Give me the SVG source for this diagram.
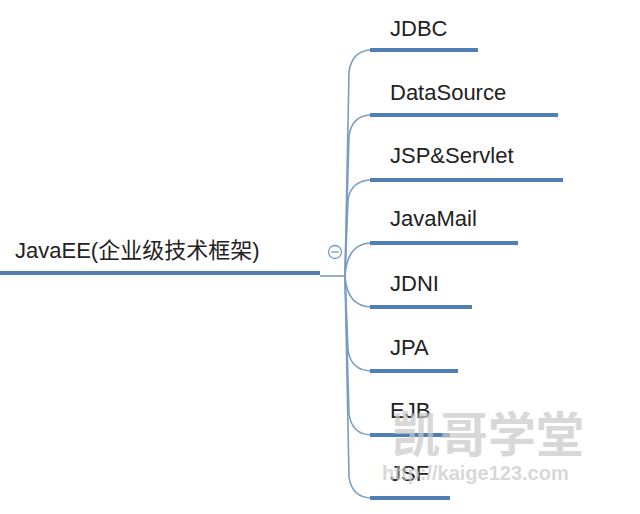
<svg xmlns="http://www.w3.org/2000/svg" width="640" height="514" viewBox="0 0 640 514">
<style>
.t{font-family:"Liberation Sans","Noto Sans CJK SC",sans-serif;font-size:22px;fill:#222}
.u{stroke:#4f7fb3;stroke-width:4;fill:none}
.c{stroke:#7a9cc0;stroke-width:1.6;fill:none}
.w{font-family:"Liberation Sans","Noto Sans CJK SC",sans-serif;fill:#c8c8c8;opacity:0.7}
</style>
<rect width="640" height="514" fill="#fff"/>
<g id="connectors">
<path class="c" d="M320,276 L345,276"/>
<path class="c" d="M345,276 L349,72 Q352,50 372,50"/>
<path class="c" d="M345,276 L349,136 Q352,115 372,115"/>
<path class="c" d="M345,276 L348,200 Q351,180 372,180"/>
<path class="c" d="M345,276 Q347,243 372,243"/>
<path class="c" d="M345,276 Q347,307 372,307"/>
<path class="c" d="M345,276 L348,350 Q351,371 372,371"/>
<path class="c" d="M345,276 L349,414 Q352,435 372,435"/>
<path class="c" d="M345,276 L349,477 Q352,498 372,498"/>
</g>
<g id="root">
<text class="t" x="15" y="258">JavaEE(企业级技术框架)</text>
<path class="u" d="M0,273 L320,273"/>
<circle cx="335" cy="252" r="6.5" fill="#fff" stroke="#7a9cc0" stroke-width="1.3"/>
<path d="M331,252 L339,252" stroke="#7a9cc0" stroke-width="1.3"/>
</g>
<g id="n1"><text class="t" x="390" y="36">JDBC</text><path class="u" d="M370,50 L478,50"/></g>
<g id="n2"><text class="t" x="390" y="100">DataSource</text><path class="u" d="M370,115 L558,115"/></g>
<g id="n3"><text class="t" x="390" y="163">JSP&amp;Servlet</text><path class="u" d="M370,180 L563,180"/></g>
<g id="n4"><text class="t" x="390" y="226">JavaMail</text><path class="u" d="M370,243 L518,243"/></g>
<g id="n5"><text class="t" x="390" y="291">JDNI</text><path class="u" d="M370,307 L472,307"/></g>
<g id="n6"><text class="t" x="390" y="355">JPA</text><path class="u" d="M370,371 L458,371"/></g>
<g id="n7"><text class="t" x="390" y="418">EJB</text><path class="u" d="M370,435 L450,435"/></g>
<g id="n8"><text class="t" x="390" y="481">JSF</text><path class="u" d="M370,498 L450,498"/></g>
<text class="w" x="392" y="452" font-size="48" font-weight="bold">凯哥学堂</text>
<text class="w" x="382" y="480" font-size="20" font-weight="bold">http://kaige123.com</text>
</svg>
